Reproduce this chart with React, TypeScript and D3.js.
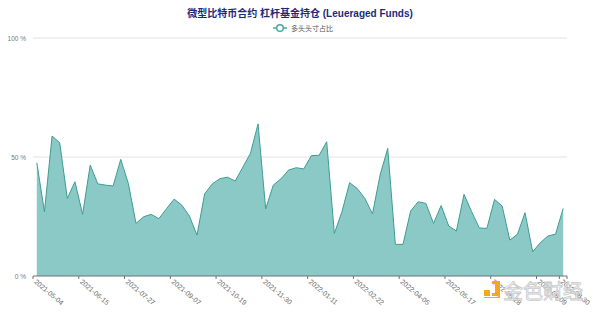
import React from "react";
import * as d3 from "d3";

const dates: string[] = [
  "2021-05-04","2021-05-11","2021-05-18","2021-05-25","2021-06-01","2021-06-08","2021-06-15","2021-06-22","2021-06-29","2021-07-06",
  "2021-07-13","2021-07-20","2021-07-27","2021-08-03","2021-08-10","2021-08-17","2021-08-24","2021-08-31","2021-09-07","2021-09-14",
  "2021-09-21","2021-09-28","2021-10-05","2021-10-12","2021-10-19","2021-10-26","2021-11-02","2021-11-09","2021-11-16","2021-11-23",
  "2021-11-30","2021-12-07","2021-12-14","2021-12-21","2021-12-28","2022-01-04","2022-01-11","2022-01-18","2022-01-25","2022-02-01",
  "2022-02-08","2022-02-15","2022-02-22","2022-03-01","2022-03-08","2022-03-15","2022-03-22","2022-03-29","2022-04-05","2022-04-12",
  "2022-04-19","2022-04-26","2022-05-03","2022-05-10","2022-05-17","2022-05-24","2022-05-31","2022-06-07","2022-06-14","2022-06-21",
  "2022-06-28","2022-07-05","2022-07-12","2022-07-19","2022-07-26","2022-08-02","2022-08-09","2022-08-16","2022-08-23","2022-08-30",
];

const longShare: number[] = [
  47.6, 27.0, 58.8, 56.0, 32.6, 39.6, 25.9, 46.6, 38.7, 38.2,
  37.8, 49.0, 38.9, 22.1, 24.9, 25.9, 24.1, 28.3, 32.3, 29.8,
  25.2, 17.2, 34.5, 38.7, 40.9, 41.5, 39.9, 45.7, 51.5, 63.9,
  28.2, 38.2, 40.8, 44.5, 45.5, 45.0, 50.6, 50.7, 56.4, 17.9,
  27.0, 39.2, 36.8, 32.6, 26.1, 42.4, 53.6, 13.3, 13.3, 27.3,
  31.2, 30.5, 22.1, 29.6, 21.0, 18.9, 34.3, 27.0, 20.2, 20.0,
  32.2, 29.4, 15.1, 17.5, 26.6, 10.2, 14.0, 16.8, 17.6, 28.4,
];

const labelDates: string[] = [
  "2021-05-04","2021-06-15","2021-07-27","2021-09-07","2021-10-19","2021-11-30",
  "2022-01-11","2022-02-22","2022-04-05","2022-05-17","2022-06-28","2022-08-09","2022-08-30",
];

const yTicks: number[] = [0, 50, 100];

const title = "微型比特币合约 杠杆基金持仓 (Leueraged Funds)";
const seriesName = "多头头寸占比";

const W = 600, H = 312;
const left = 33, right = 567, top = 38, bottom = 276;
const font = "Arial, 'Liberation Sans', 'Noto Sans CJK SC', sans-serif";

export default function App() {
  const x = d3.scaleBand<string>().domain(dates).range([left, right]);
  const bw = x.bandwidth();
  const cx = (d: string) => (x(d) as number) + bw / 2;
  const y = d3.scaleLinear().domain([0, 100]).range([bottom, top]);

  const data = dates.map((d, i) => ({ d, v: longShare[i] }));
  const area = d3.area<{ d: string; v: number }>().x((p) => cx(p.d)).y0(y(0)).y1((p) => y(p.v));
  const line = d3.line<{ d: string; v: number }>().x((p) => cx(p.d)).y((p) => y(p.v));

  const tickXs = [...labelDates.map((d) => x(d) as number), right];

  return (
    <svg width={W} height={H} style={{ position: "absolute", left: 0, top: 0, background: "#fff" }} fontFamily={font}>
      <rect width={W} height={H} fill="#fff" />
      <text x={W / 2} y={17} textAnchor="middle" fontSize={10} fontWeight="bold" fill="#1d2a7a">{title}</text>
      <g transform="translate(0,28)">
        <line x1={273} x2={287} y1={0} y2={0} stroke="#4aa79f" strokeWidth={1.5} />
        <circle cx={280} cy={0} r={3.3} fill="#fff" stroke="#4aa79f" strokeWidth={1.5} />
        <text x={291} y={2.5} fontSize={7} fill="#555">{seriesName}</text>
      </g>
      {yTicks.map((t) => (
        <g key={t}>
          {t !== 0 && <line x1={left} x2={right} y1={y(t)} y2={y(t)} stroke="#e3e3e3" strokeWidth={1} />}
          <text x={26} y={y(t) + 2.5} textAnchor="end" fontSize={6.5} fill="#777">{t} %</text>
        </g>
      ))}
      <path d={area(data) as string} fill="#8ac9c5" />
      <path d={line(data) as string} fill="none" stroke="#3f9c94" strokeWidth={1} />
      <line x1={left} x2={right} y1={bottom} y2={bottom} stroke="#6e7079" strokeWidth={1} />
      {tickXs.map((tx, i) => (
        <line key={i} x1={tx} x2={tx} y1={bottom} y2={bottom + 3} stroke="#6e7079" strokeWidth={1} />
      ))}
      {labelDates.map((d) => (
        <text key={d} transform={`translate(${cx(d) - 2},${bottom + 5}) rotate(40)`} fontSize={7} fill="#666" dominantBaseline="middle">{d}</text>
      ))}
      <g>
        <rect x={484} y={290} width={6} height={6} fill="#f5a623" />
        <path d="M 491 281 L 498 281 L 498 297 L 484 297 L 484 298 L 500 298 L 500 281 Z" fill="#f5a623" />
        <path d="M 492 281 h 6 v 15 h -6 v -3 h 3 v -9 h -3 Z" fill="#f5a623" />
        <text x={503} y={299} fontSize={20} fill="rgba(255,255,255,0.7)" stroke="#c8c8c8" strokeWidth={0.8} fontFamily="'Noto Sans CJK SC', sans-serif">金色财经</text>
      </g>
    </svg>
  );
}
